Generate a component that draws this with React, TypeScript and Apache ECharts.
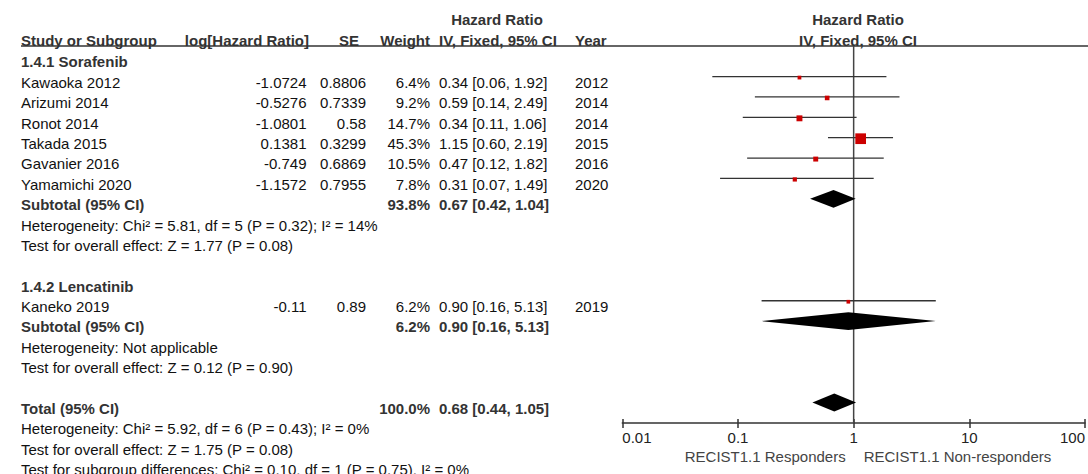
import React, { useEffect, useRef } from "react";
import * as echarts from "echarts";

// ---------- data ----------
const groupNames = ["1.4.1 Sorafenib", "1.4.2 Lencatinib"];
const studies = ["Kawaoka 2012", "Arizumi 2014", "Ronot 2014", "Takada 2015", "Gavanier 2016", "Yamamichi 2020", "Kaneko 2019"];
const studyGroup = [0, 0, 0, 0, 0, 0, 1];
const logHR = ["-1.0724", "-0.5276", "-1.0801", "0.1381", "-0.749", "-1.1572", "-0.11"];
const se = ["0.8806", "0.7339", "0.58", "0.3299", "0.6869", "0.7955", "0.89"];
const weight = [6.4, 9.2, 14.7, 45.3, 10.5, 7.8, 6.2];
const hr = [0.34, 0.59, 0.34, 1.15, 0.47, 0.31, 0.9];
const lo = [0.06, 0.14, 0.11, 0.6, 0.12, 0.07, 0.16];
const hi = [1.92, 2.49, 1.06, 2.19, 1.82, 1.49, 5.13];
const years = [2012, 2014, 2014, 2015, 2016, 2020, 2019];

const subWeight = [93.8, 6.2];
const subHR = [0.67, 0.9];
const subLo = [0.42, 0.16];
const subHi = [1.04, 5.13];
const subHet = ["Heterogeneity: Chi² = 5.81, df = 5 (P = 0.32); I² = 14%", "Heterogeneity: Not applicable"];
const subTest = ["Test for overall effect: Z = 1.77 (P = 0.08)", "Test for overall effect: Z = 0.12 (P = 0.90)"];

const totalWeight = 100.0;
const totalHR = 0.68;
const totalLo = 0.44;
const totalHi = 1.05;
const totalNotes = [
  "Heterogeneity: Chi² = 5.92, df = 6 (P = 0.43); I² = 0%",
  "Test for overall effect: Z = 1.75 (P = 0.08)",
  "Test for subgroup differences: Chi² = 0.10, df = 1 (P = 0.75), I² = 0%",
];

const tickValues = [0.01, 0.1, 1, 10, 100];
const tickLabels = ["0.01", "0.1", "1", "10", "100"];
const leftLabel = "RECIST1.1 Responders";
const rightLabel = "RECIST1.1 Non-responders";

// ---------- layout ----------
const FONT = '"Liberation Sans", Arial, sans-serif';
const FS = 15;
const GRID_LEFT = 622.3;
const GRID_W = 468.7;
const GRID_TOP = 46;
const GRID_H = 377;
const ROW_MIN = -1.5;
const ROW_MAX = 17;
const TEXT_DY = 5.8;

const rowPx = (i: number) => GRID_TOP + ((i - ROW_MIN) * GRID_H) / (ROW_MAX - ROW_MIN);
const xPx = (v: number) => GRID_LEFT + ((Math.log10(v) + 2) / 4) * GRID_W;

const COL = {
  name: 21,
  logRight: 306.5,
  seRight: 366,
  wRight: 430,
  ciLeft: 439,
  yearLeft: 575,
};

const fmtW = (w: number) => w.toFixed(1) + "%";
const fmtCI = (h: number, l: number, u: number) => `${h.toFixed(2)} [${l.toFixed(2)}, ${u.toFixed(2)}]`;

type Row =
  | { kind: "group"; g: number }
  | { kind: "study"; s: number }
  | { kind: "sub"; g: number }
  | { kind: "note"; text: string }
  | { kind: "blank" }
  | { kind: "total" };

function buildRows(): Row[] {
  const rows: Row[] = [];
  groupNames.forEach((_, g) => {
    rows.push({ kind: "group", g });
    studies.forEach((_, s) => {
      if (studyGroup[s] === g) rows.push({ kind: "study", s });
    });
    rows.push({ kind: "sub", g });
    rows.push({ kind: "note", text: subHet[g] });
    rows.push({ kind: "note", text: subTest[g] });
    rows.push({ kind: "blank" });
  });
  rows.push({ kind: "total" });
  totalNotes.forEach((t) => rows.push({ kind: "note", text: t }));
  return rows;
}

export default function App() {
  const ref = useRef<HTMLDivElement>(null);

  useEffect(() => {
    document.body.style.margin = "0";
    const chart = echarts.init(ref.current!, undefined, { renderer: "svg" });

    const rows = buildRows();
    const graphic: any[] = [];
    const txt = (text: string, x: number, y: number, align: string, bold = false, fill = "#111") => {
      graphic.push({
        type: "text",
        x,
        y,
        silent: true,
        style: {
          text,
          font: `${bold ? "bold " : ""}${FS}px ${FONT}`,
          fill: bold ? "#333" : fill,
          align,
          verticalAlign: "middle",
        },
      });
    };

    // header
    txt("Hazard Ratio", 497, 19.5, "center", true);
    txt("Study or Subgroup", COL.name, 40, "left", true);
    txt("log[Hazard Ratio]", 309, 40, "right", true);
    txt("SE", 359, 40, "right", true);
    txt("Weight", COL.wRight, 40, "right", true);
    txt("IV, Fixed, 95% CI", COL.ciLeft, 40, "left", true);
    txt("Year", COL.yearLeft, 40, "left", true);
    txt("Hazard Ratio", 858, 19.5, "center", true);
    txt("IV, Fixed, 95% CI", 858, 40, "center", true);
    graphic.push({
      type: "line",
      silent: true,
      shape: { x1: COL.name, y1: GRID_TOP, x2: 1088, y2: GRID_TOP },
      style: { stroke: "#333", lineWidth: 1.5 },
    });

    const studyData: any[] = [];
    const diamondData: any[] = [];

    rows.forEach((r, k) => {
      const i = k - 1;
      const y = rowPx(i) + TEXT_DY;
      if (r.kind === "group") {
        txt(groupNames[r.g], COL.name, y, "left", true);
      } else if (r.kind === "study") {
        const s = r.s;
        txt(studies[s], COL.name, y, "left");
        txt(logHR[s], COL.logRight, y, "right");
        txt(se[s], COL.seRight, y, "right");
        txt(fmtW(weight[s]), COL.wRight, y, "right");
        txt(fmtCI(hr[s], lo[s], hi[s]), COL.ciLeft, y, "left");
        txt(String(years[s]), COL.yearLeft, y, "left");
        studyData.push([lo[s], hi[s], hr[s], i, weight[s]]);
      } else if (r.kind === "sub") {
        const g = r.g;
        txt("Subtotal (95% CI)", COL.name, y, "left", true);
        txt(fmtW(subWeight[g]), COL.wRight, y, "right", true);
        txt(fmtCI(subHR[g], subLo[g], subHi[g]), COL.ciLeft, y, "left", true);
        diamondData.push([subLo[g], subHi[g], subHR[g], i, 8.8]);
      } else if (r.kind === "note") {
        txt(r.text, COL.name, y, "left");
      } else if (r.kind === "total") {
        txt("Total (95% CI)", COL.name, y, "left", true);
        txt(fmtW(totalWeight), COL.wRight, y, "right", true);
        txt(fmtCI(totalHR, totalLo, totalHi), COL.ciLeft, y, "left", true);
        diamondData.push([totalLo, totalHi, totalHR, i, 9]);
      }
    });

    const x1 = xPx(1);
    txt(leftLabel, x1 - 11, 456.7, "right", false, "#444");
    txt(rightLabel, x1 + 7, 456.7, "left", false, "#444");

    const logAxisBase = {
      type: "log",
      logBase: 10,
      min: tickValues[0],
      max: tickValues[tickValues.length - 1],
      gridIndex: 0,
      position: "bottom",
      splitLine: { show: false },
      minorTick: { show: false },
    };

    const option: any = {
      animation: false,
      grid: { left: GRID_LEFT, top: GRID_TOP, width: GRID_W, height: GRID_H, containLabel: false },
      xAxis: [
        {
          ...logAxisBase,
          axisLine: { show: true, onZero: false, lineStyle: { color: "#333", width: 1.5 } },
          axisTick: { show: true, inside: false, length: 5, lineStyle: { color: "#333", width: 1.5 } },
          axisLabel: {
            show: true,
            margin: 7,
            fontSize: FS,
            fontFamily: FONT,
            color: "#222",
            alignMinLabel: "left",
            alignMaxLabel: "right",
            formatter: (v: number) => {
              const idx = tickValues.findIndex((t) => Math.abs(t - v) / t < 1e-6);
              return idx >= 0 ? tickLabels[idx] : "";
            },
          },
        },
        {
          ...logAxisBase,
          axisLine: { show: false, onZero: false },
          axisTick: { show: true, inside: true, length: 4, lineStyle: { color: "#333", width: 1.5 } },
          axisLabel: { show: false },
        },
      ],
      yAxis: { type: "value", min: ROW_MIN, max: ROW_MAX, inverse: true, show: false },
      graphic,
      series: [
        {
          type: "line",
          data: [
            [1, ROW_MIN],
            [1, ROW_MAX],
          ],
          symbol: "none",
          lineStyle: { color: "#444", width: 1.5 },
          silent: true,
          z: 1,
        },
        {
          type: "custom",
          data: studyData,
          encode: { x: [0, 1, 2], y: 3 },
          z: 3,
          silent: true,
          renderItem: (params: any, api: any) => {
            const row = api.value(3);
            const a = api.coord([api.value(0), row]);
            const b = api.coord([api.value(1), row]);
            const c = api.coord([api.value(2), row]);
            const size = 1.65 * Math.sqrt(api.value(4)) - 0.4;
            return {
              type: "group",
              children: [
                {
                  type: "line",
                  shape: { x1: a[0], y1: a[1], x2: b[0], y2: b[1] },
                  style: { stroke: "#333", lineWidth: 1.3 },
                },
                {
                  type: "rect",
                  shape: { x: c[0] - size / 2, y: c[1] + 1 - size / 2, width: size, height: size },
                  style: { fill: "#cc0000" },
                },
              ],
            };
          },
        },
        {
          type: "custom",
          data: diamondData,
          encode: { x: [0, 1, 2], y: 3 },
          z: 3,
          silent: true,
          renderItem: (params: any, api: any) => {
            const row = api.value(3);
            const h = api.value(4);
            const a = api.coord([api.value(0), row]);
            const b = api.coord([api.value(1), row]);
            const c = api.coord([api.value(2), row]);
            return {
              type: "polygon",
              shape: {
                points: [
                  [a[0], a[1]],
                  [c[0], c[1] - h],
                  [b[0], b[1]],
                  [c[0], c[1] + h],
                ],
              },
              style: { fill: "#000" },
            };
          },
        },
      ],
    };

    chart.setOption(option);
    return () => chart.dispose();
  }, []);

  return <div ref={ref} style={{ width: 1088, height: 474 }} />;
}
